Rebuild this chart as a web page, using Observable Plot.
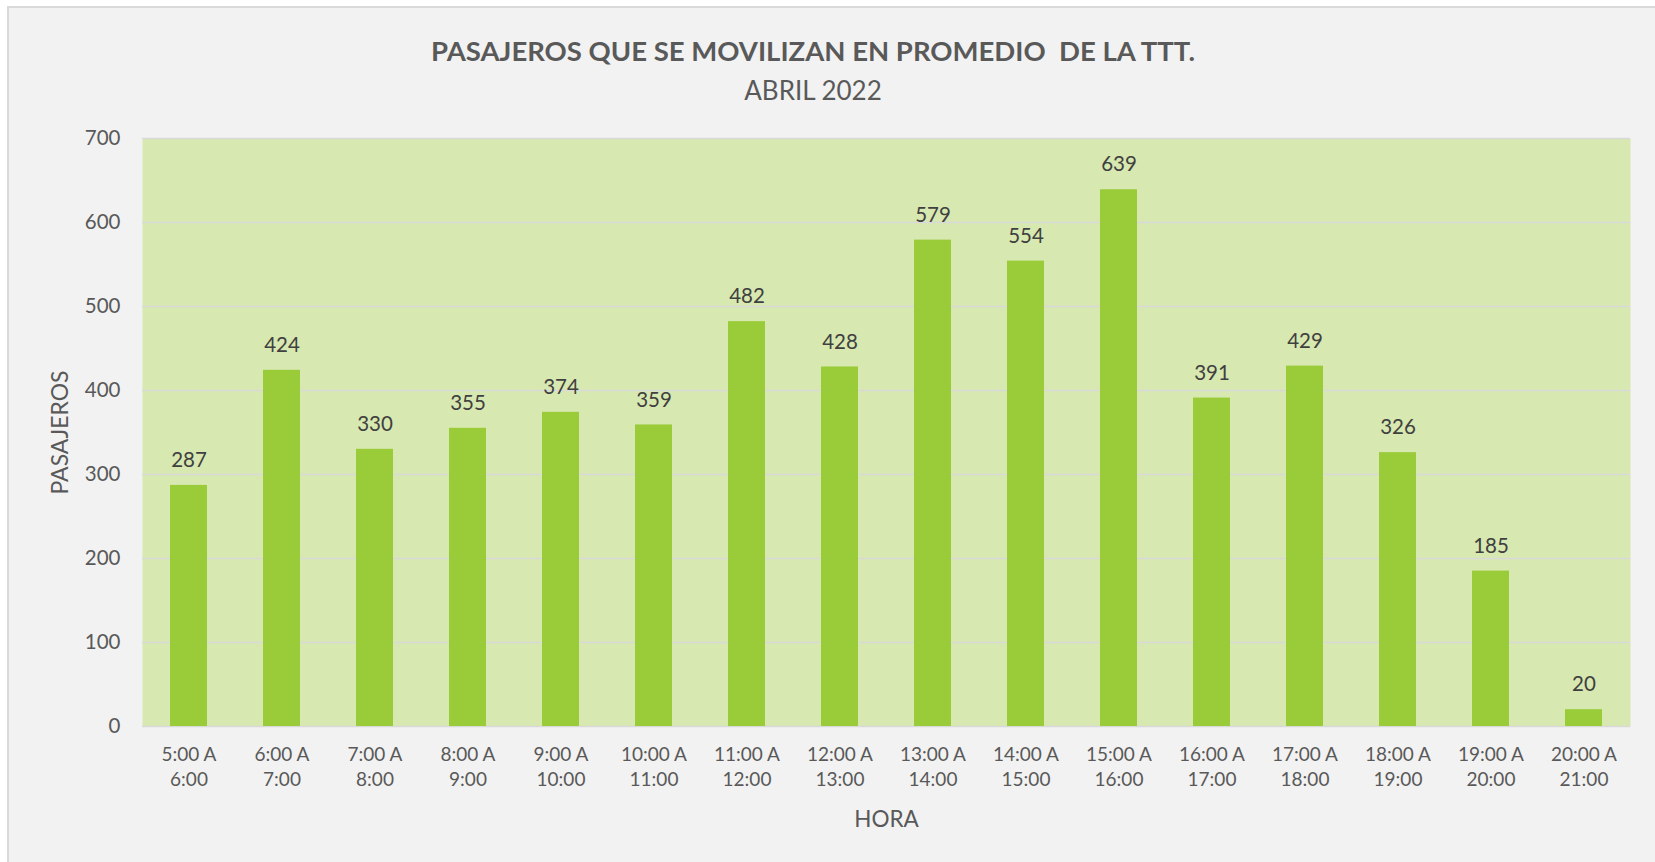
<!DOCTYPE html>
<html>
<head>
<meta charset="utf-8">
<script src="https://cdn.jsdelivr.net/npm/d3@7"></script>
<script src="https://cdn.jsdelivr.net/npm/@observablehq/plot@0.6"></script>
<style>
  html, body { margin: 0; padding: 0; background: #ffffff; }
  #frame {
    position: absolute; left: 7px; top: 6px; width: 1660px; height: 870px;
    background: #f2f2f2; border-left: 2px solid #d9d9d9; border-top: 2px solid #d9d9d9;
    box-sizing: border-box;
  }
  #wrap { position: absolute; left: 0; top: 0; width: 1655px; height: 862px; font-family: Lato, "Open Sans", sans-serif; }
  #title { position: absolute; left: 0; top: 0; width: 1655px; height: 125px; text-align: center; color: #595959; }
  #t1 { position: absolute; left: 0; width: 1626px; top: 35px; font-size: 27.5px; font-weight: bold; line-height: 32px; }
  #t2 { position: absolute; left: 0; width: 1626px; top: 74px; font-size: 26px; line-height: 32px; }
  #chart { position: absolute; left: 0; top: 125px; }
</style>
</head>
<body>
<div id="frame"></div>
<div id="wrap">
  <div id="title">
    <div id="t1">PASAJEROS QUE SE MOVILIZAN EN PROMEDIO&nbsp; DE LA TTT.</div>
    <div id="t2">ABRIL 2022</div>
  </div>
  <div id="chart"></div>
</div>
<script>
const categories = ["5:00 A\n6:00", "6:00 A\n7:00", "7:00 A\n8:00", "8:00 A\n9:00", "9:00 A\n10:00",
  "10:00 A\n11:00", "11:00 A\n12:00", "12:00 A\n13:00", "13:00 A\n14:00", "14:00 A\n15:00",
  "15:00 A\n16:00", "16:00 A\n17:00", "17:00 A\n18:00", "18:00 A\n19:00", "19:00 A\n20:00", "20:00 A\n21:00"];
const values = [287, 424, 330, 355, 374, 359, 482, 428, 579, 554, 639, 391, 429, 326, 185, 20];
const yTicks = [0, 100, 200, 300, 400, 500, 600, 700];
const yLabel = "PASAJEROS";
const xLabel = "HORA";

const data = categories.map((c, i) => ({hora: c, pasajeros: values[i]}));

const chart = Plot.plot({
  width: 1655,
  height: 737,
  marginLeft: 142,
  marginRight: 25,
  marginTop: 13,
  marginBottom: 136,
  style: {background: "transparent", fontFamily: "Lato, 'Open Sans', sans-serif", fontSize: "19px", color: "#595959", overflow: "visible"},
  x: {domain: categories, paddingInner: 0.6, paddingOuter: 0.3, label: null},
  y: {domain: [0, 700], label: null},
  marks: [
    Plot.frame({fill: "#d7e8b0", stroke: null}),
    Plot.ruleY(yTicks.filter(d => d > 0), {stroke: "#d9d9d9", strokeWidth: 1.5}),
    Plot.ruleY([0], {stroke: "#d9d9d9", strokeWidth: 1.5}),
    Plot.barY(data, {x: "hora", y: "pasajeros", fill: "#9acb38"}),
    Plot.text(data, {x: "hora", y: "pasajeros", text: d => String(d.pasajeros), dy: -25, lineAnchor: "middle", fill: "#404040", fontSize: 20.5}),
    Plot.axisY({ticks: yTicks, tickSize: 0, tickPadding: 22, fontSize: 20.5, fill: "#595959"}),
    Plot.axisX({tickSize: 0, tickPadding: 17, fontSize: 19, fill: "#595959", lineHeight: 1.3}),
    Plot.text([yLabel], {frameAnchor: "left", dx: -82, rotate: -90, text: d => d, fontSize: 23, fill: "#595959", textAnchor: "middle", lineAnchor: "middle"}),
    Plot.text([xLabel], {frameAnchor: "bottom", dy: 93, text: d => d, fontSize: 22.5, fill: "#595959", textAnchor: "middle", lineAnchor: "middle"})
  ]
});
document.getElementById("chart").appendChild(chart);
</script>
</body>
</html>
